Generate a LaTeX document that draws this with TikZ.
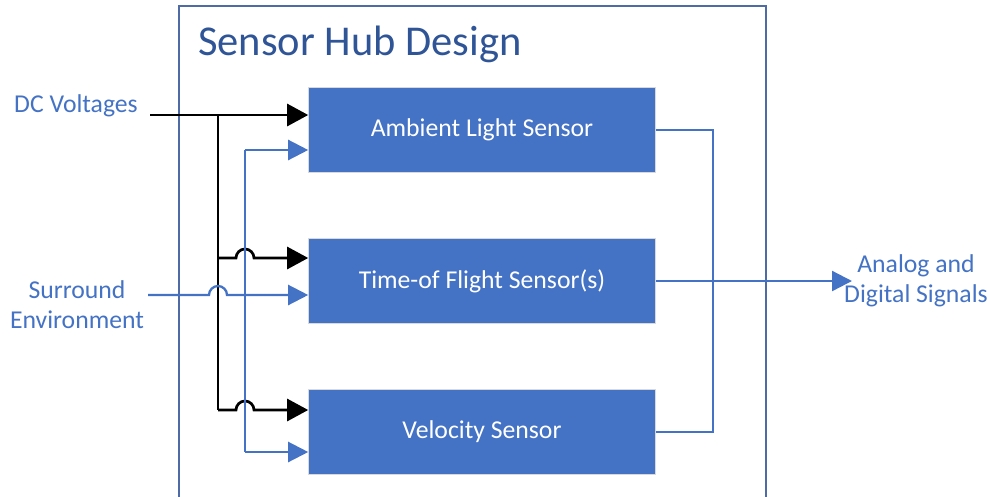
\documentclass[tikz,border=0pt]{standalone}
\usepackage{fontspec}
\setmainfont{Carlito}
\usetikzlibrary{arrows.meta}
\definecolor{sblue}{HTML}{4472C4}
\definecolor{tblue}{HTML}{2F5597}
\definecolor{fblue}{HTML}{4F6BA6}
\tikzset{
  box/.style={fill=sblue, draw=black!15, line width=0.6pt, minimum width=347pt, minimum height=85pt,
    inner sep=0pt, text=white, font=\fontsize{25.7}{30}\selectfont},
  lbl/.style={text=sblue, align=center, inner sep=0pt, font=\fontsize{25.7}{30}\selectfont},
  blkline/.style={draw=black, line width=2.7pt, line join=miter},
  blkarrow/.style={blkline, -{Triangle[length=21pt,width=22pt]}},
  bline/.style={draw=sblue, line width=2.3pt, line join=miter},
  barrow/.style={bline, -{Triangle[length=20pt,width=20pt]}},
}
\begin{document}
\begin{tikzpicture}[x=1pt,y=-1pt]
\useasboundingbox (0,0) rectangle (990,496);
% frame
\draw[fblue, line width=2pt] (179,520) -- (179,6) -- (766,6) -- (766,520);
\node[anchor=base west, inner sep=0pt, text=tblue, font=\fontsize{42.5}{48}\selectfont] (ttl) at (198,55) {Sensor Hub Design};
% boxes
\node[box] (als) at (482,130) {Ambient Light Sensor};
\node[box] (tof) at (482,281) {Time-of Flight Sensor(s)};
\node[box] (vel) at (482,432) {Velocity Sensor};
% labels
\node[lbl] (dc) at (76,106) {DC Voltages};
\node[lbl] (env) at (77,305) {Surround\\Environment};
\node[lbl] (out) at (916,281) {Analog and\\Digital Signals};
% coordinates
\coordinate (dcs) at (150,115);
\coordinate (bj) at (218,115);
\coordinate (bb) at (218,410);
\coordinate (ut) at (245,150);
\coordinate (ub) at (245,452);
\coordinate (envs) at (148,295);
\coordinate (outtip) at (852,281);
% black supply lines
\draw[blkarrow] (dcs) -- ([yshift=15pt]als.west);
\draw[blkline] (bj) -- (bb);
\draw[blkarrow] (218,258) -- (236,258) arc[start angle=180,end angle=0,radius=9pt] -- ([yshift=23pt]tof.west);
\draw[blkarrow] (bb) -- (236,410) arc[start angle=180,end angle=0,radius=9pt] -- ([yshift=22pt]vel.west);
% blue environment lines
\draw[bline] (ut) -- (ub);
\draw[barrow] (ut) -- ([yshift=-20pt]als.west);
\draw[barrow] (ub) -- ([yshift=-20pt]vel.west);
\draw[barrow] (envs) -- (209,295) arc[start angle=180,end angle=0,radius=9pt] -- ([yshift=-14pt]tof.west);
% outputs
\draw[bline] (als.east) -- (713,130) -- (713,432) -- (vel.east);
\draw[barrow] (tof.east) -- (outtip);
\end{tikzpicture}
\end{document}
